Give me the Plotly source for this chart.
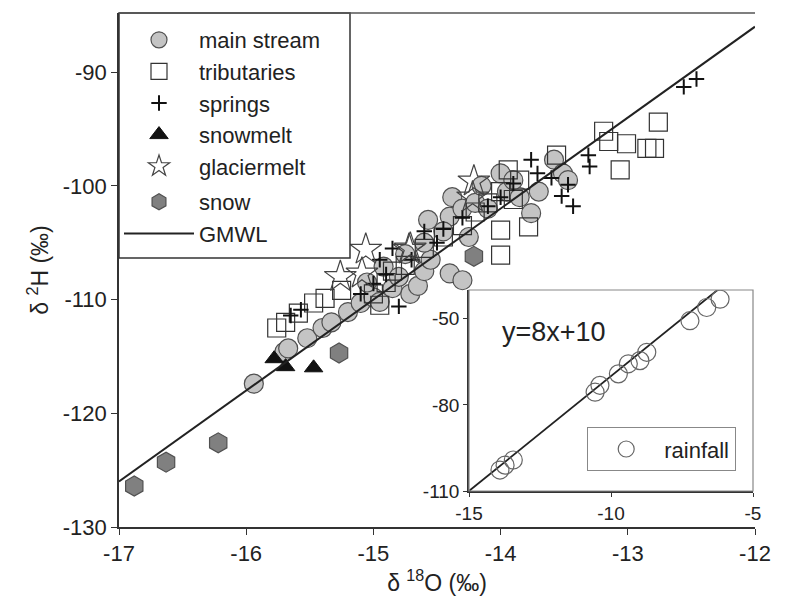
import plotly.graph_objects as go

# ---------------- data ----------------
main_x = [-15.94, -15.70, -15.67, -15.52, -15.40, -15.33, -15.20, -15.10, -15.00, -14.95,
          -14.85, -14.92, -14.80, -14.71, -14.65, -14.60, -14.55, -14.40, -14.30, -14.57,
          -14.40, -14.38, -14.30, -14.20, -14.10, -14.00, -13.95, -13.85, -13.76, -13.58,
          -13.51, -13.47, -14.45, -14.25, -14.60, -14.75, -15.05, -14.15, -13.90, -13.70]
main_y = [-117.4, -114.6, -114.3, -113.4, -112.5, -112.0, -111.1, -110.3, -109.8, -110.2,
          -109.0, -107.1, -108.0, -109.5, -108.8, -107.5, -106.5, -107.7, -108.3, -103.0,
          -102.7, -101.0, -102.0, -101.5, -102.0, -98.9, -100.5, -101.0, -102.4, -97.7,
          -98.9, -99.5, -104.0, -104.5, -105.0, -106.0, -108.5, -100.0, -99.5, -100.5]

trib_x = [-15.76, -15.69, -15.59, -15.47, -15.38, -15.25, -15.00, -14.90, -14.85, -14.75,
          -14.60, -14.45, -14.30, -14.20, -14.10, -14.00, -14.00, -13.78, -13.94, -13.85,
          -13.56, -13.19, -13.15, -13.01, -12.85, -12.79, -12.76, -13.06, -14.95, -14.00, -13.90]
trib_y = [-112.5, -112.0, -111.2, -110.3, -109.9, -109.2, -109.5, -108.5, -107.5, -107.0,
          -105.5, -104.5, -103.5, -102.3, -101.5, -103.9, -106.1, -103.6, -98.6, -99.5,
          -97.3, -95.2, -96.1, -96.3, -96.7, -96.7, -94.4, -98.6, -110.5, -100.5, -101.2]

spring_x = [-15.57, -15.65, -15.10, -15.00, -14.90, -14.80, -14.85, -14.70, -14.60, -14.45,
            -14.30, -14.10, -14.00, -13.90, -13.76, -13.71, -13.60, -13.52, -13.47, -13.43,
            -13.31, -13.30, -12.56, -12.46, -14.95, -14.50]
spring_y = [-110.9, -111.4, -109.5, -108.6, -107.8, -110.6, -105.5, -106.5, -104.0, -103.8,
            -102.8, -101.8, -101.0, -99.8, -97.7, -98.9, -99.3, -100.9, -99.9, -101.8,
            -97.3, -98.3, -91.3, -90.6, -106.5, -105.0]

snowmelt_x = [-15.78, -15.69, -15.47]
snowmelt_y = [-115.2, -115.9, -116.0]

glacier_x = [-15.06, -15.26, -15.09, -14.72, -14.21, -14.22, -14.71]
glacier_y = [-105.6, -108.0, -107.7, -105.6, -99.6, -101.0, -105.5]

snow_x = [-16.88, -16.63, -16.22, -15.27, -14.21]
snow_y = [-126.4, -124.3, -122.6, -114.7, -106.2]

rain_x = [-6.16, -6.63, -7.22, -8.74, -8.98, -9.39, -9.74, -10.39, -10.56, -13.44, -13.73, -13.91]
rain_y = [-43.2, -46.1, -50.7, -61.7, -64.6, -65.7, -69.2, -73.2, -75.6, -99.2, -101.0, -102.7]

gmwl_slope, gmwl_icpt = 8, 10
gmwl_x_main = [-17, -12]
gmwl_x_inset = [-15, -5]

x_ticks_main = [-17, -16, -15, -14, -13, -12]
y_ticks_main = [-130, -120, -110, -100, -90]
x_ticks_inset = [-15, -10, -5]
y_ticks_inset = [-110, -80, -50]

# ---------------- figure ----------------
W, H = 794, 615
FONT = "Liberation Sans, Arial, sans-serif"
fig = go.Figure()

fig.add_trace(go.Scatter(x=main_x, y=main_y, mode="markers", name="main stream",
                         legendgroup="a",
                         marker=dict(symbol="circle", size=19, color="#c4c4c4",
                                     line=dict(color="#505050", width=1.2))))
fig.add_trace(go.Scatter(x=trib_x, y=trib_y, mode="markers", name="tributaries",
                         legendgroup="a",
                         marker=dict(symbol="square-open", size=18, color="#333333",
                                     line=dict(color="#333333", width=1.2))))
fig.add_trace(go.Scatter(x=spring_x, y=spring_y, mode="markers", name="springs",
                         legendgroup="a",
                         marker=dict(symbol="cross-thin", size=11, color="#111111",
                                     line=dict(color="#111111", width=2))))
fig.add_trace(go.Scatter(x=snowmelt_x, y=snowmelt_y, mode="markers", name="snowmelt",
                         legendgroup="a",
                         marker=dict(symbol="triangle-up", size=16, color="#111111",
                                     line=dict(color="#111111", width=1))))
fig.add_trace(go.Scatter(x=glacier_x, y=glacier_y, mode="markers", name="glaciermelt",
                         legendgroup="a",
                         marker=dict(symbol="star-open", size=24, color="#444444",
                                     line=dict(color="#444444", width=1.2))))
fig.add_trace(go.Scatter(x=snow_x, y=snow_y, mode="markers", name="snow",
                         legendgroup="b",
                         marker=dict(symbol="hexagon", size=20, color="#808080",
                                     line=dict(color="#505050", width=1.2))))
fig.add_trace(go.Scatter(x=gmwl_x_main, y=[gmwl_slope * v + gmwl_icpt for v in gmwl_x_main],
                         mode="lines", name="GMWL", legendgroup="b",
                         line=dict(color="#222222", width=2)))

# inset
fig.add_trace(go.Scatter(x=gmwl_x_inset, y=[gmwl_slope * v + gmwl_icpt for v in gmwl_x_inset],
                         mode="lines", xaxis="x2", yaxis="y2", showlegend=False,
                         line=dict(color="#222222", width=1.8)))
fig.add_trace(go.Scatter(x=rain_x, y=rain_y, mode="markers", name="rainfall",
                         xaxis="x2", yaxis="y2", legend="legend2",
                         marker=dict(symbol="circle-open", size=18, color="#666666",
                                     line=dict(color="#666666", width=1.2))))


def px_x(p):
    return p / W


def px_y(p):
    return 1 - p / H


def labels(vals):
    return [str(v) for v in vals]


common = dict(showline=True, linecolor="#333333", linewidth=1.5, ticks="outside",
              tickcolor="#333333", showgrid=False, zeroline=False, automargin=False)

fig.update_layout(
    width=W, height=H,
    margin=dict(l=0, r=0, t=0, b=0),
    paper_bgcolor="white", plot_bgcolor="white",
    font=dict(family=FONT, size=22, color="#222222"),
    xaxis=dict(domain=[px_x(119), px_x(755)], range=[-17, -12], tickvals=x_ticks_main,
               ticktext=labels(x_ticks_main), ticklen=6, tickfont=dict(size=22),
               title=dict(text="δ <sup>18</sup>O (‰)", font=dict(size=23), standoff=4),
               **common),
    yaxis=dict(domain=[px_y(527), px_y(13)], range=[-130, -84.8], tickvals=y_ticks_main,
               ticktext=labels(y_ticks_main), ticklen=6, tickfont=dict(size=22),
               title=dict(text="δ <sup>2</sup>H (‰)", font=dict(size=23), standoff=8),
               **common),
    xaxis2=dict(domain=[px_x(469), px_x(753)], range=[-15, -5], tickvals=x_ticks_inset,
                ticktext=labels(x_ticks_inset), anchor="y2", ticklen=4,
                tickfont=dict(size=19), **common),
    yaxis2=dict(domain=[px_y(491), px_y(290)], range=[-110, -40], tickvals=y_ticks_inset,
                ticktext=labels(y_ticks_inset), anchor="x2", ticklen=4,
                tickfont=dict(size=19), **common),
    legend=dict(x=px_x(119), y=px_y(19), xanchor="left", yanchor="top",
                bgcolor="rgba(0,0,0,0)", borderwidth=0,
                font=dict(size=22), itemwidth=70, tracegroupgap=4,
                traceorder="grouped", itemsizing="trace"),
    legend2=dict(x=px_x(587), y=px_y(427), xanchor="left", yanchor="top",
                 bgcolor="white", bordercolor="#888888", borderwidth=1.2,
                 font=dict(size=22), itemwidth=66),
    showlegend=True,
)

# legend frame (white box over the data), top frame of main plot, inset frame
fig.add_shape(type="rect", xref="paper", yref="paper",
              x0=px_x(119), x1=px_x(350), y0=px_y(258), y1=px_y(13),
              fillcolor="white", line=dict(color="#333333", width=1.5), layer="above")
fig.add_shape(type="line", xref="x domain", yref="y domain", x0=0, x1=1, y0=1, y1=1,
              line=dict(color="#555555", width=1.5))
fig.add_shape(type="rect", xref="x2 domain", yref="y2 domain", x0=0, x1=1, y0=0, y1=1,
              line=dict(color="#888888", width=1.2))

fig.add_annotation(text="y=8x+10", xref="x2 domain", yref="y2 domain", x=0.11, y=0.79,
                   xanchor="left", yanchor="middle", showarrow=False,
                   font=dict(size=27, color="#222222"))

fig.write_html("out.html")
